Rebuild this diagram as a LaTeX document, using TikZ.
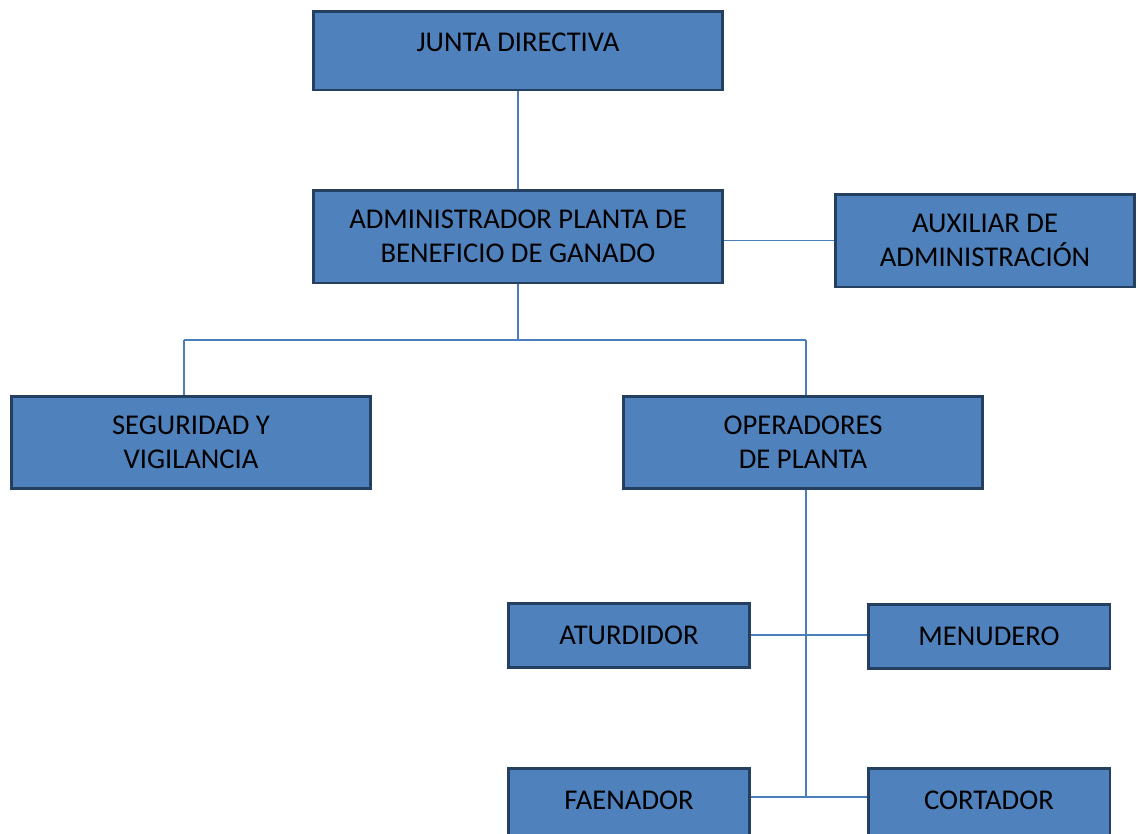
\documentclass[tikz,border=0pt]{standalone}
\usepackage{fontspec}
\setmainfont{Carlito}
\usetikzlibrary{positioning}
\definecolor{cajaazul}{HTML}{4F81BD}
\definecolor{bordeazul}{HTML}{243F60}
\definecolor{lineaazul}{HTML}{4A7EBB}
\tikzset{
    %Define style for boxes
    caja/.style={
           rectangle,
           draw=bordeazul, line width=1.7pt,
           fill=cajaazul,
           align=center,
           font=\fontsize{16.3}{19.3}\selectfont,
           inner sep=2pt},
    % Define line style
    linea/.style={
           draw=lineaazul,
           line width=0.8pt}
}
\begin{document}
\begin{tikzpicture}[x=0.02cm, y=-0.02cm,
grande/.style={caja, minimum width=8.2cm, minimum height=1.86cm},
medio/.style={caja, minimum width=7.2cm, minimum height=1.84cm},
chico/.style={caja, minimum width=4.84cm, minimum height=1.28cm}
]
\clip (0,0) rectangle (1138,833);
%Nodes
\node[grande, minimum height=1.58cm, text depth=0.34cm] (junta) at (518,50.5) {JUNTA DIRECTIVA};
\node[grande] (admin) at (518,236.5) {ADMINISTRADOR PLANTA DE\\BENEFICIO DE GANADO};
\node[grande, minimum width=6cm] (aux) at (985,240.5) {AUXILIAR DE\\ADMINISTRACIÓN};
\node[medio] (seguridad) at (191,442) {SEGURIDAD Y\\VIGILANCIA};
\node[medio] (operadores) at (803,442) {OPERADORES\\DE PLANTA};
\node[chico] (aturdidor) at (629,635) {ATURDIDOR};
\node[chico] (menudero) at (989,636.5) {MENUDERO};
\node[chico, minimum height=1.44cm, text depth=0.16cm] (faenador) at (629,804) {FAENADOR};
\node[chico, minimum height=1.44cm, text depth=0.16cm] (cortador) at (989,804) {CORTADOR};
%Lines
\coordinate (rama) at (518,340);
\coordinate (bseg) at (184,340);
\coordinate (bop) at (806,340);
\coordinate (fin) at (806,797);
\draw[linea] (junta) -- (admin);
\draw[linea] (aux.west) -- (aux.west -| admin.east);
\draw[linea] (admin.south) -- (rama);
\draw[linea] (bseg) -- (bop);
\draw[linea] (bseg) -- (bseg |- seguridad.north);
\draw[linea] (bop) -- (bop |- operadores.north);
\draw[linea] (bop |- operadores.south) -- (fin);
\draw[linea] (aturdidor.east) -- (aturdidor.east -| menudero.west);
\draw[linea] (faenador.east |- fin) -- (cortador.west |- fin);
\end{tikzpicture}
\end{document}
